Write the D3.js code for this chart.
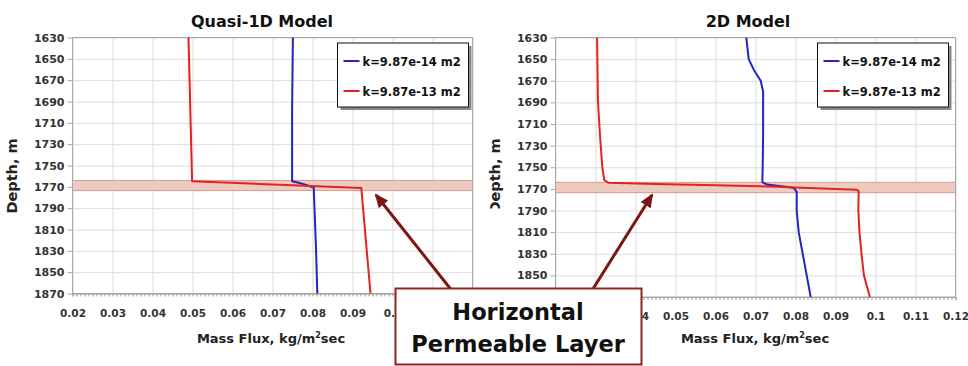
<!DOCTYPE html>
<html>
<head>
<meta charset="utf-8">
<script src="https://cdn.jsdelivr.net/npm/d3@7"></script>
<style>
  body { margin: 0; background: #fff; }
  svg { display: block; font-family: "DejaVu Sans", sans-serif; font-weight: bold; }
</style>
</head>
<body>
<svg id="chart" width="968" height="366"></svg>
<script>
// tick values
const fluxTicks = [0.02, 0.03, 0.04, 0.05, 0.06, 0.07, 0.08, 0.09, 0.1, 0.11, 0.12];
const depthTicks = [1630, 1650, 1670, 1690, 1710, 1730, 1750, 1770, 1790, 1810, 1830, 1850, 1870];
const seriesNames = ['k=9.87e-14 m2', 'k=9.87e-13 m2'];
const panelTitles = ['Quasi-1D Model', '2D Model'];
const layerDepth = [1764, 1773.5];

// [mass flux, depth]
const quasiK14 = [[0.0751, 1630], [0.0749, 1700], [0.0749, 1764.7], [0.0765, 1766.2], [0.078, 1767.8],
  [0.0803, 1770.6], [0.0805, 1790], [0.0809, 1830], [0.0812, 1870]];
const quasiK13 = [[0.049, 1630], [0.0499, 1764.7], [0.0922, 1771], [0.0945, 1870]];

const model2dK14 = [[0.0677, 1630], [0.0683, 1650], [0.0696, 1660], [0.0713, 1670], [0.0719, 1680],
  [0.0719, 1720], [0.0718, 1750], [0.0717, 1763.8], [0.0729, 1766], [0.0785, 1768.4], [0.0797, 1769.4],
  [0.0803, 1773], [0.0803, 1790], [0.0808, 1810], [0.0818, 1830], [0.0828, 1850], [0.0838, 1870]];
const model2dK13 = [[0.0304, 1630], [0.0306, 1688], [0.0311, 1719], [0.0317, 1750], [0.0322, 1762],
  [0.0333, 1764.4], [0.045, 1765.6], [0.06, 1766.6], [0.0713, 1767.6], [0.085, 1769.4], [0.0954, 1770.7],
  [0.0958, 1772.6], [0.0957, 1790], [0.096, 1810], [0.0965, 1830], [0.0971, 1850], [0.0986, 1870]];

const colors = ['#2424c4', '#e42222'];
const svg = d3.select('#chart');

svg.append('defs').append('clipPath').attr('id', 'clipLabel')
  .append('rect').attr('x', 480).attr('y', 0).attr('width', 40).attr('height', 208.5);

function styleTicks(axis, size) {
  axis.attr('font-family', null).attr('font-size', null);
  axis.select('.domain').remove();
  axis.selectAll('text').attr('font-size', size).attr('font-weight', 'bold').attr('fill', '#333');
}

function drawPanel(p) {
  const g = svg.append('g');
  const x = d3.scaleLinear().domain([0.02, 0.12]).range([p.left, p.right]);
  const y = d3.scaleLinear().domain([1630, 1870]).range([p.top, p.bottom]);
  const w = p.right - p.left, h = p.bottom - p.top;

  // grid
  g.append('g')
    .attr('transform', `translate(0,${p.bottom})`)
    .call(d3.axisBottom(x).tickValues(fluxTicks).tickSize(-h).tickFormat(''))
    .call(a => a.select('.domain').remove())
    .selectAll('line').attr('stroke', '#dcdcdc');
  g.append('g')
    .attr('transform', `translate(${p.left},0)`)
    .call(d3.axisLeft(y).tickValues(depthTicks).tickSize(-w).tickFormat(''))
    .call(a => a.select('.domain').remove())
    .selectAll('line').attr('stroke', '#dcdcdc');

  // permeable layer band
  g.append('rect')
    .attr('x', p.left).attr('width', w)
    .attr('y', y(layerDepth[0])).attr('height', y(layerDepth[1]) - y(layerDepth[0]))
    .attr('fill', '#eecbc0').attr('stroke', '#d69c90').attr('stroke-width', 1);

  // frame
  g.append('rect').attr('x', p.left).attr('y', p.top).attr('width', w).attr('height', h)
    .attr('fill', 'none').attr('stroke', '#a8a8a8');

  // y axis
  const ya = g.append('g')
    .attr('transform', `translate(${p.left},0)`)
    .call(d3.axisLeft(y).tickValues(depthTicks).tickSize(5).tickPadding(3).tickFormat(d => String(d)));
  styleTicks(ya, 11);
  ya.selectAll('line').attr('stroke', '#a8a8a8');

  // x axis with minor ticks
  g.append('g')
    .attr('transform', `translate(0,${p.bottom})`)
    .call(d3.axisBottom(x).tickValues(d3.range(20, 121).map(v => v / 1000)).tickSize(3).tickFormat(''))
    .call(a => a.select('.domain').attr('stroke', '#a8a8a8'))
    .selectAll('line').attr('stroke', '#999');
  const xa = g.append('g')
    .attr('transform', `translate(0,${p.bottom})`)
    .call(d3.axisBottom(x).tickValues(fluxTicks).tickSize(0).tickPadding(16).tickFormat(d => String(d)));
  styleTicks(xa, 10.5);

  // series
  const line = d3.line().x(d => x(d[0])).y(d => y(d[1]));
  p.series.forEach((s, i) => {
    g.append('path').datum(s).attr('d', line)
      .attr('fill', 'none').attr('stroke', colors[i]).attr('stroke-width', 2)
      .attr('stroke-linejoin', 'round');
  });

  // titles
  g.append('text').attr('x', p.titleX).attr('y', 27).attr('text-anchor', 'middle')
    .attr('font-size', 16).attr('fill', '#111').text(p.title);
  const xl = g.append('text').attr('x', p.xLabelX).attr('y', 343).attr('text-anchor', 'middle')
    .attr('font-size', 13).attr('fill', '#222');
  xl.append('tspan').text('Mass Flux, kg/m');
  xl.append('tspan').attr('font-size', 8).attr('dy', -5).text('2');
  xl.append('tspan').attr('dy', 5).text('sec');
  const lw = g.append('g');
  if (p.clipLabel) lw.attr('clip-path', 'url(#clipLabel)');
  lw.append('text').attr('transform', `translate(${p.yLabelX},176) rotate(-90)`)
    .attr('text-anchor', 'middle').attr('font-size', 14.5).attr('fill', '#222').text('Depth, m');

  // legend
  const lg = g.append('g').attr('transform', `translate(${p.legendX},43)`);
  lg.append('rect').attr('x', 3).attr('y', 3).attr('width', 131).attr('height', 64).attr('fill', '#8a8a8a');
  lg.append('rect').attr('width', 131).attr('height', 64).attr('fill', '#fff')
    .attr('stroke', '#111').attr('stroke-width', 1);
  seriesNames.forEach((name, i) => {
    const ly = 18 + i * 30;
    lg.append('line').attr('x1', 6).attr('x2', 22).attr('y1', ly).attr('y2', ly)
      .attr('stroke', colors[i]).attr('stroke-width', 2);
    lg.append('text').attr('x', 25).attr('y', ly + 4.5).attr('font-size', 11.5)
      .attr('fill', '#111').text(name);
  });
}

drawPanel({ left: 555.5, right: 955.5, top: 37.5, bottom: 297, title: panelTitles[1], titleX: 748,
  xLabelX: 755, yLabelX: 500, legendX: 817.5, series: [model2dK14, model2dK13], clipLabel: true });
drawPanel({ left: 72.5, right: 472.5, top: 37.5, bottom: 293.5, title: panelTitles[0], titleX: 262,
  xLabelX: 271, yLabelX: 17, legendX: 337.5, series: [quasiK14, quasiK13] });

// annotation
const arrowColor = '#7b1616';
svg.select('defs').append('marker')
  .attr('id', 'head').attr('markerUnits', 'userSpaceOnUse')
  .attr('viewBox', '0 0 14 12').attr('refX', 12).attr('refY', 6)
  .attr('markerWidth', 14).attr('markerHeight', 12).attr('orient', 'auto')
  .append('path').attr('d', 'M0,0 L14,6 L0,12 Z').attr('fill', arrowColor);
[[453, 292, 376, 195], [591, 292, 652, 195]].forEach(a => {
  svg.append('line').attr('x1', a[0]).attr('y1', a[1]).attr('x2', a[2]).attr('y2', a[3])
    .attr('stroke', arrowColor).attr('stroke-width', 3).attr('marker-end', 'url(#head)');
});
svg.append('rect').attr('x', 395.5).attr('y', 288.5).attr('width', 246).attr('height', 76)
  .attr('fill', '#fff').attr('stroke', '#8b2424').attr('stroke-width', 2);
svg.append('text').attr('x', 518).attr('y', 320).attr('text-anchor', 'middle')
  .attr('font-size', 22.5).attr('fill', '#111').text('Horizontal');
svg.append('text').attr('x', 518).attr('y', 352).attr('text-anchor', 'middle')
  .attr('font-size', 22.5).attr('fill', '#111').text('Permeable Layer');
</script>
</body>
</html>
